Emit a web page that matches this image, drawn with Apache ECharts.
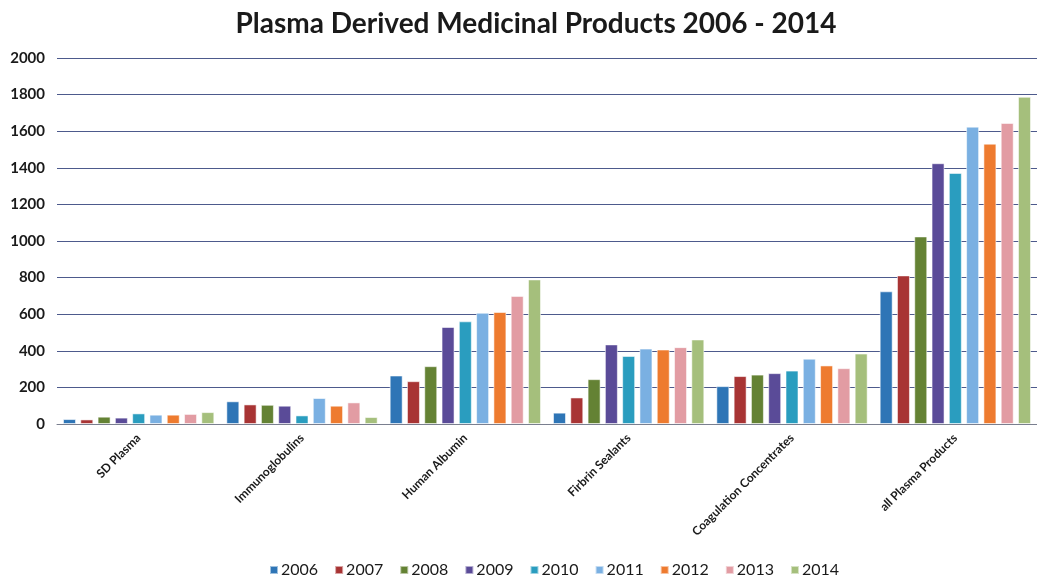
<!DOCTYPE html>
<html>
<head>
<meta charset="utf-8">
<title>Plasma Derived Medicinal Products 2006 - 2014</title>
<script src="https://cdn.jsdelivr.net/npm/echarts@6/dist/echarts.min.js"></script>
<style>
  html, body { margin: 0; padding: 0; background: #ffffff; }
  #chart { width: 1037px; height: 583px; }
</style>
</head>
<body>
<div id="chart"></div>
<script>
// Product groups along the x axis
const categories = ['SD Plasma', 'Immunoglobulins', 'Human Albumin', 'Firbrin Sealants', 'Coagulation Concentrates', 'all Plasma Products'];

// One series per year, values per product group
const years = ['2006', '2007', '2008', '2009', '2010', '2011', '2012', '2013', '2014'];
const v2006 = [27, 124, 265, 62, 207, 725];
const v2007 = [25, 107, 234, 145, 262, 812];
const v2008 = [40, 105, 316, 245, 270, 1025];
const v2009 = [35, 100, 530, 435, 278, 1425];
const v2010 = [58, 47, 561, 372, 292, 1372];
const v2011 = [51, 142, 608, 412, 357, 1625];
const v2012 = [51, 100, 612, 407, 320, 1532];
const v2013 = [55, 118, 700, 420, 305, 1645];
const v2014 = [65, 38, 790, 462, 385, 1788];

// Y axis ticks
const yTicks = [0, 200, 400, 600, 800, 1000, 1200, 1400, 1600, 1800, 2000];

const yearValues = [v2006, v2007, v2008, v2009, v2010, v2011, v2012, v2013, v2014];
const palette = ['#2e75b6', '#a83434', '#648234', '#5a4b98', '#2a9dbf', '#7ab0e2', '#ee7b2f', '#e29ca3', '#a5bf7c'];

const series = years.map((y, i) => ({
  name: y,
  type: 'bar',
  data: yearValues[i],
  barWidth: 13,
  barGap: '33%',
  itemStyle: { color: palette[i], borderColor: 'rgba(255,255,255,0.55)', borderWidth: 1 }
}));

const chart = echarts.init(document.getElementById('chart'), null, { renderer: 'canvas' });
chart.setOption({
  backgroundColor: '#ffffff',
  animation: false,
  title: {
    text: 'Plasma Derived Medicinal Products 2006 - 2014',
    left: 531,
    textAlign: 'center',
    top: 5,
    textStyle: { fontFamily: 'Lato, "Open Sans", sans-serif', fontWeight: 'bold', fontSize: 28, color: '#1a1a1a' }
  },
  color: palette,
  legend: {
    data: years,
    bottom: 0,
    left: 264,
    itemWidth: 8,
    itemHeight: 8,
    itemGap: 16,
    icon: 'rect',
    textStyle: { fontFamily: 'Lato, "Open Sans", sans-serif', fontSize: 16, color: '#1a1a1a', padding: [0, 0, 0, -2] }
  },
  grid: { left: 57, right: -10, top: 58, bottom: 159, containLabel: false },
  xAxis: {
    type: 'category',
    data: categories,
    axisTick: { show: false },
    axisLine: { lineStyle: { color: '#7a7f8f', width: 1 } },
    axisLabel: {
      rotate: 45,
      interval: 0,
      margin: 12,
      fontFamily: 'Lato, "Open Sans", sans-serif',
      fontWeight: 'bold',
      fontSize: 12,
      color: '#1a1a1a'
    }
  },
  yAxis: {
    type: 'value',
    min: yTicks[0],
    max: yTicks[yTicks.length - 1],
    interval: yTicks[1] - yTicks[0],
    axisLine: { show: false },
    axisTick: { show: false },
    splitLine: { lineStyle: { color: '#4d5a8c', width: 1 } },
    axisLabel: {
      margin: 12,
      formatter: (v) => String(v),
      fontFamily: 'Lato, "Open Sans", sans-serif',
      fontWeight: 'bold',
      fontSize: 15,
      color: '#1a1a1a'
    }
  },
  series: series
});
</script>
</body>
</html>
